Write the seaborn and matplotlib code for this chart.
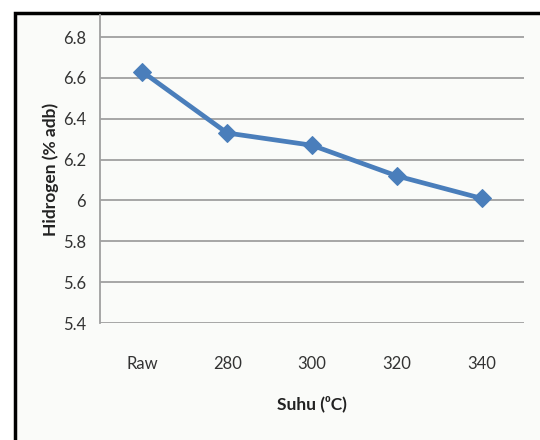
import numpy as np
import pandas as pd
import matplotlib.pyplot as plt
import seaborn as sns
from matplotlib.patches import Rectangle

# data
suhu = ["Raw", "280", "300", "320", "340"]
hidrogen = [6.63, 6.33, 6.27, 6.12, 6.01]
yticks = [5.4, 5.6, 5.8, 6.0, 6.2, 6.4, 6.6, 6.8]
ytick_labels = ["5.4", "5.6", "5.8", "6", "6.2", "6.4", "6.6", "6.8"]

df = pd.DataFrame({"suhu": suhu, "hidrogen": hidrogen})

sns.set_style("white")
plt.rcParams["font.family"] = ["Lato", "DejaVu Sans"]

fig = plt.figure(figsize=(5.4, 4.4), dpi=100)
fig.patch.set_facecolor("white")

# outer frame of the chart
frame = Rectangle((15 / 540, -0.05), 1.0, (440 - 13) / 440 + 0.05,
                  transform=fig.transFigure, facecolor="#fafbf9",
                  edgecolor="black", linewidth=2.5, zorder=-10)
fig.patches.append(frame)

ax = fig.add_axes([100 / 540, (440 - 323) / 440, 424 / 540, (323 - 15) / 440])
ax.set_facecolor("none")

sns.lineplot(x="suhu", y="hidrogen", data=df, sort=False, ax=ax,
             color="#4a7ebb", linewidth=3.4, marker="D", markersize=9,
             markeredgecolor="#4a7ebb", zorder=3)

ax.set_xlim(-0.5, 4.5)
ax.set_ylim(5.4, 5.4 + (323 - 15) * 1.4 / 286)
ax.set_yticks(yticks)
ax.set_yticklabels(ytick_labels)
ax.yaxis.grid(True, color="#a0a0a0", linewidth=1.3)
ax.set_axisbelow(True)

for s in ["top", "right", "bottom"]:
    ax.spines[s].set_visible(False)
ax.spines["left"].set_color("#a0a0a0")
ax.spines["left"].set_linewidth(1.3)

ax.tick_params(axis="y", length=6, color="#a0a0a0", width=1.3,
               labelsize=12, labelcolor="#333333", pad=4)
ax.tick_params(axis="x", length=0, labelsize=12, labelcolor="#333333", pad=24)

ax.set_xlabel("Suhu (\u2070C)", fontsize=12.5, fontweight="bold",
              color="#222222", labelpad=17)
ax.set_ylabel("Hidrogen (% adb)", fontsize=12.5, fontweight="bold",
              color="#222222", labelpad=3)

fig.savefig("out.png", dpi=100)
